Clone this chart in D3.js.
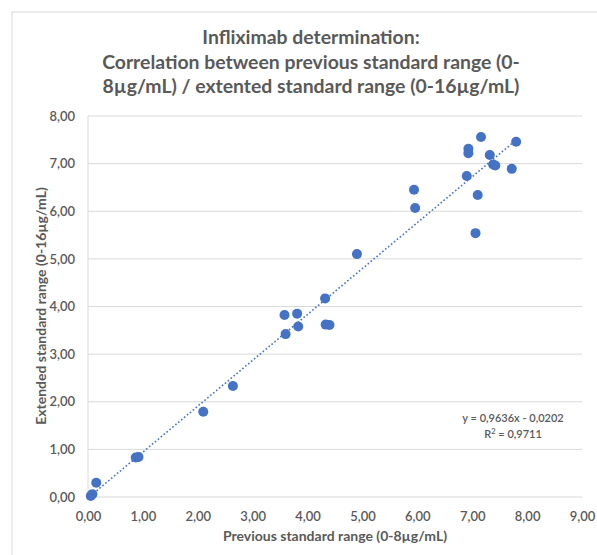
<!DOCTYPE html>
<html><head><meta charset="utf-8">
<script src="https://cdn.jsdelivr.net/npm/d3@7"></script>
<style>body{margin:0;background:#fff}</style>
</head><body>
<svg id="c" width="597" height="555"></svg>
<script>
const titleLines = ["Infliximab determination:", "Correlation between  previous standard range (0-", "8µg/mL) / extented standard range (0-16µg/mL)"];
const xTitle = "Previous standard  range (0-8µg/mL)";
const yTitle = "Extended standard range (0-16µg/mL)";
const xTicks = [0,1,2,3,4,5,6,7,8,9];
const yTicks = [0,1,2,3,4,5,6,7,8];
const prevRange = [0.05,0.08,0.15,0.87,0.92,2.10,2.64,3.58,3.81,3.60,3.83,4.32,4.33,4.40,4.90,5.94,5.96,7.06,7.16,6.93,6.93,7.80,7.32,7.38,7.42,7.72,6.90,7.10];
const extRange  = [0.02,0.06,0.30,0.83,0.84,1.79,2.33,3.82,3.85,3.42,3.58,4.17,3.62,3.61,5.10,6.45,6.07,5.54,7.56,7.31,7.22,7.46,7.18,6.98,6.96,6.89,6.74,6.34];
const slope = 0.9636, intercept = -0.0202;
const eqText = "y = 0,9636x - 0,0202";
const r2Text = "0,9711";

const svg = d3.select("#c");
const grey = "#595959", font = "Lato, 'Open Sans', sans-serif";
const fmt = d => d3.format(".2f")(d).replace(".", ",");

svg.append("rect").attr("x",12).attr("y",12).attr("width",600).attr("height",560)
  .attr("fill","#fff").attr("stroke","#d9d9d9").attr("stroke-width",1);

const x = d3.scaleLinear().domain([0,9]).range([88,582]);
const y = d3.scaleLinear().domain([0,8]).range([497,116]);

svg.append("g").selectAll("line").data(yTicks).join("line")
  .attr("x1",x(0)).attr("x2",x(9)).attr("y1",d=>y(d)).attr("y2",d=>y(d))
  .attr("stroke","#d9d9d9").attr("stroke-width",1);
svg.append("line").attr("x1",x(0)).attr("x2",x(0)).attr("y1",y(0)).attr("y2",y(8))
  .attr("stroke","#d9d9d9").attr("stroke-width",1);

const xa = svg.append("g").attr("transform",`translate(0,${y(0)})`)
  .call(d3.axisBottom(x).tickValues(xTicks).tickFormat(fmt).tickSize(0).tickPadding(15));
const ya = svg.append("g").attr("transform",`translate(${x(0)},0)`)
  .call(d3.axisLeft(y).tickValues(yTicks).tickFormat(fmt).tickSize(0).tickPadding(13));
[xa,ya].forEach(a=>{a.select(".domain").remove();
  a.selectAll("text").attr("fill",grey).attr("font-family",font).attr("font-size",13).attr("font-weight",600);});

const xmin = d3.min(prevRange), xmax = d3.max(prevRange);
svg.append("line").attr("x1",x(xmin)).attr("y1",y(slope*xmin+intercept))
  .attr("x2",x(xmax)).attr("y2",y(slope*xmax+intercept))
  .attr("stroke","#4472c4").attr("stroke-width",1.6).attr("stroke-dasharray","1.6,2.2");

svg.append("g").selectAll("circle").data(prevRange).join("circle")
  .attr("cx",d=>x(d)).attr("cy",(d,i)=>y(extRange[i])).attr("r",5)
  .attr("fill","#4472c4");

svg.append("g").selectAll("text").data(titleLines).join("text")
  .attr("x",311).attr("y",(d,i)=>44+i*24.5).attr("text-anchor","middle")
  .attr("fill",grey).attr("font-family",font).attr("font-weight",700).attr("font-size",19.4)
  .text(d=>d);

svg.append("text").attr("x",335).attr("y",541).attr("text-anchor","middle")
  .attr("fill",grey).attr("font-family",font).attr("font-weight",700).attr("font-size",14).text(xTitle);
svg.append("text").attr("transform","translate(46,306) rotate(-90)").attr("text-anchor","middle")
  .attr("fill",grey).attr("font-family",font).attr("font-weight",700).attr("font-size",14).text(yTitle);

const eq = svg.append("g").attr("fill",grey).attr("font-family",font).attr("font-weight",600).attr("font-size",11);
eq.append("text").attr("x",513).attr("y",422).attr("text-anchor","middle").text(eqText);
const r = eq.append("text").attr("x",513).attr("y",438).attr("text-anchor","middle");
r.append("tspan").text("R");
r.append("tspan").attr("dy",-4).attr("font-size",7.5).text("2");
r.append("tspan").attr("dy",4).text(" = " + r2Text);
</script>
</body></html>
